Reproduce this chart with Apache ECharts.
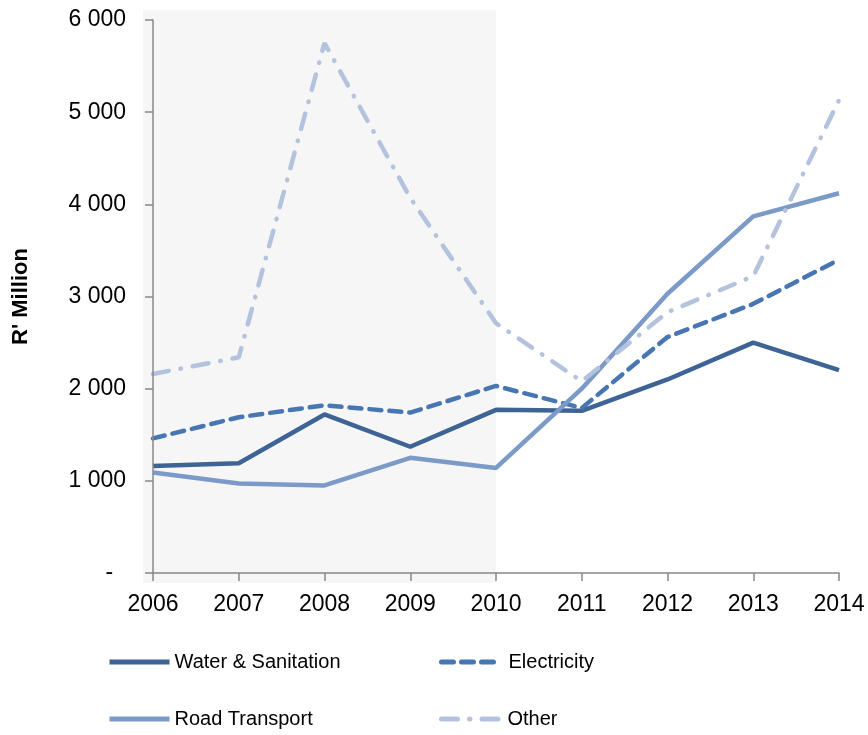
<!DOCTYPE html>
<html>
<head>
<meta charset="utf-8">
<script src="https://cdn.jsdelivr.net/npm/echarts@6/dist/echarts.min.js"></script>
<style>html,body{margin:0;padding:0;background:#fff}#c{width:868px;height:735px}</style>
</head>
<body>
<div id="c"></div>
<script>
const years = ['2006','2007','2008','2009','2010','2011','2012','2013','2014'];
const waterSanitation = [1160, 1190, 1720, 1370, 1770, 1760, 2100, 2500, 2200];
const electricity = [1460, 1690, 1820, 1740, 2030, 1790, 2560, 2920, 3400];
const roadTransport = [1090, 970, 950, 1250, 1140, 2000, 3030, 3870, 4120];
const other = [2160, 2340, 5750, 4070, 2710, 2080, 2830, 3220, 5130];
const yTicks = [0, 1000, 2000, 3000, 4000, 5000, 6000];
const shadedFrom = '2006';
const shadedTo = '2010';

const font = '"Liberation Sans", Arial, sans-serif';
const colors = {
  water: '#3d6495',
  elec: '#4776b3',
  road: '#7b9ac8',
  other: '#b3c3dd'
};

const chart = echarts.init(document.getElementById('c'));

function legendAt(name, left, top, w, textPadLeft) {
  return {
    data: [name],
    left: left, top: top,
    padding: 0,
    itemWidth: w, itemHeight: 14, itemGap: 0,
    itemStyle: { opacity: 0 },
    lineStyle: { width: 5 },
    textStyle: { fontFamily: font, fontSize: 20, color: '#000', padding: [0, 0, 0, textPadLeft] },
    selectedMode: false
  };
}

chart.setOption({
  animation: false,
  grid: { left: 153, right: 29, top: 20, bottom: 162, containLabel: false, outerBoundsMode: 'none' },
  legend: [
    legendAt('Water & Sanitation', 107, 652, 60, 0),
    legendAt('Electricity', 439, 652, 53, 9),
    legendAt('Road Transport', 107, 709, 60, 0),
    legendAt('Other', 439, 709, 61, 0)
  ],
  xAxis: {
    type: 'category',
    data: years,
    boundaryGap: false,
    z: 5,
    axisLine: { lineStyle: { color: '#888', width: 1.5 } },
    axisTick: { show: true, length: 8, lineStyle: { color: '#888', width: 1.5 } },
    axisLabel: { fontFamily: font, fontSize: 23, color: '#000', margin: 20 }
  },
  yAxis: {
    type: 'value',
    min: 0, max: 6000, interval: 1000,
    z: 5,
    name: "R' Million",
    nameLocation: 'middle',
    nameGap: 121,
    nameRotate: 90,
    nameTextStyle: { fontFamily: font, fontSize: 22, fontWeight: 'bold', color: '#000' },
    axisLine: { show: true, lineStyle: { color: '#888', width: 1.5 } },
    axisTick: { show: true, length: 8, lineStyle: { color: '#888', width: 1.5 } },
    splitLine: { show: false },
    axisLabel: {
      fontFamily: font, fontSize: 23, color: '#000', margin: 27,
      formatter: function (v) {
        if (yTicks.indexOf(v) < 0) return '';
        if (v === 0) return '-  ';
        return String(v).replace(/\B(?=(\d{3})+(?!\d))/g, ' ');
      }
    }
  },
  series: [
    {
      name: 'Water & Sanitation', type: 'line', data: waterSanitation,
      symbol: 'none', color: colors.water,
      lineStyle: { width: 4.5, color: colors.water },
      z: 3
    },
    {
      name: 'Electricity', type: 'line', data: electricity,
      symbol: 'none', color: colors.elec,
      lineStyle: { width: 4.5, color: colors.elec, type: [12, 8], cap: 'round' },
      z: 3
    },
    {
      name: 'Road Transport', type: 'line', data: roadTransport,
      symbol: 'none', color: colors.road,
      lineStyle: { width: 4.5, color: colors.road },
      z: 3
    },
    {
      name: 'Other', type: 'line', data: other,
      symbol: 'none', color: colors.other,
      lineStyle: { width: 4.5, color: colors.other, type: [16, 12, 0.5, 12], cap: 'round' },
      z: 3
    }
  ]
});

// shaded historical period, positioned through the axes' own scales
const p0 = chart.convertToPixel({ gridIndex: 0 }, [shadedFrom, yTicks[yTicks.length - 1]]);
const p1 = chart.convertToPixel({ gridIndex: 0 }, [shadedTo, yTicks[0]]);
chart.setOption({
  graphic: [{
    type: 'rect',
    z: -10,
    silent: true,
    shape: { x: p0[0] - 10, y: p0[1] - 10, width: p1[0] - p0[0] + 10, height: p1[1] - p0[1] + 20 },
    style: { fill: '#f6f6f6' }
  }]
});
</script>
</body>
</html>
